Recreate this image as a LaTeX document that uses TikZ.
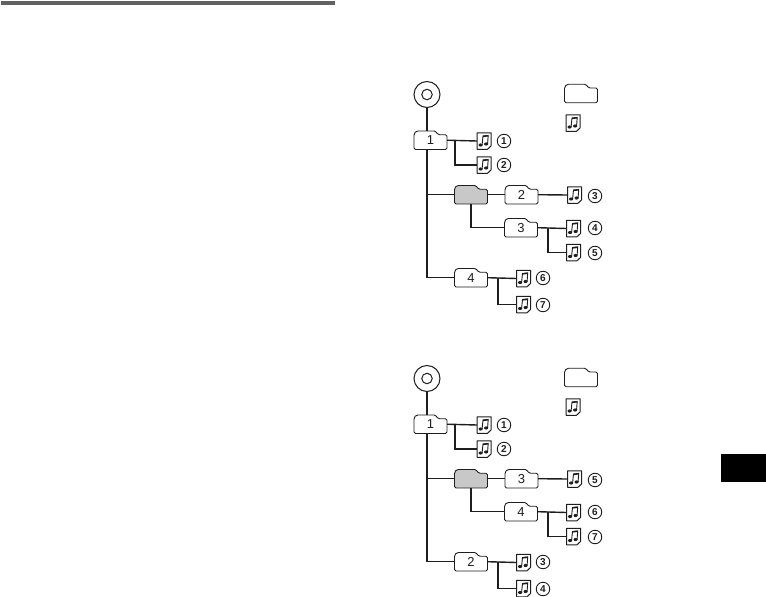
\documentclass[tikz,border=0pt]{standalone}
\usepackage{fontspec}
\setmainfont{Liberation Sans}
\definecolor{ink}{HTML}{1E1E1E}
\definecolor{foldgray}{HTML}{C8C8C8}
\tikzset{
  foldernode/.style={rectangle,inner sep=0pt,minimum width=33pt,minimum height=18.5pt,font=\fontsize{13}{13}\selectfont,text=ink},
  folderline/.style={draw=ink,line width=0.9pt,line join=round},
  notenode/.style={rectangle,inner sep=0pt,minimum width=14pt,minimum height=16.5pt},
  numnode/.style={circle,draw=ink,line width=0.9pt,inner sep=0pt,minimum size=13.5pt,font=\fontsize{10}{10}\selectfont\bfseries,text=ink},
  wire/.style={draw=ink,line width=1.4pt,line cap=butt,line join=miter},
  thinwire/.style={draw=ink,line width=1.1pt}
}
% name, centre x, centre y, label, fill
\newcommand{\foldericon}[5]{%
  \path[folderline,fill=#5,rounded corners=1.5pt]
    (#2-16.5,#3+9.25) -- (#2-16.5,#3-6.5) -- (#2-14,#3-9.25) -- (#2+5,#3-9.25)
    -- (#2+7.5,#3-5.5) -- (#2+16.5,#3-5.5) -- (#2+16.5,#3+9.25) -- cycle;
  \node[foldernode] (#1) at (#2,#3) {#4};
}
% name, centre x, centre y
\newcommand{\noteicon}[3]{%
  \path[draw=ink,line width=1pt,fill=white,line join=round]
    (#2-7,#3-8.25) -- (#2+7,#3-8.25) -- (#2+7,#3+5) -- (#2+3.5,#3+8.25) -- (#2-7,#3+8.25) -- cycle;
  \path[draw=ink,line width=0.9pt] (#2-1.9,#3+3.8) -- (#2-1,#3-5) -- (#2+4.2,#3-5.6) -- (#2+3.6,#3+2.8);
  \path[draw=ink,line width=1.4pt] (#2-1,#3-4.6) -- (#2+4.2,#3-5.2);
  \path[fill=ink] (#2-3.4,#3+4) ellipse [x radius=2.1pt,y radius=1.6pt];
  \path[fill=ink] (#2+2.1,#3+3) ellipse [x radius=2.1pt,y radius=1.6pt];
  \node[notenode] (#1) at (#2,#3) {};
}
% prefix, y offset, folder labels a b c, circled labels 1..7
\newcommand{\cdtree}[6]{%
  \begin{scope}[yshift=-#2pt]
  \node[circle,draw=ink,line width=1pt,fill=white,inner sep=0pt,minimum size=26pt] (#1disc) at (427,94.5) {};
  \node[circle,draw=ink,line width=1pt,inner sep=0pt,minimum size=10.5pt] (#1hole) at (427,94.5) {};
  \foldericon{#1legf}{581}{93.5}{}{white}
  \noteicon{#1legn}{573}{123}
  \foldericon{#1fone}{430.5}{140.2}{1}{white}
  \foldericon{#1gray}{471}{194.7}{}{foldgray}
  \foldericon{#1ftwo}{521.5}{194.7}{#3}{white}
  \foldericon{#1fthr}{521}{227.7}{#4}{white}
  \foldericon{#1ffou}{471}{277.7}{#5}{white}
  \noteicon{#1na}{484}{141}
  \noteicon{#1nb}{484}{165}
  \noteicon{#1nc}{574.5}{195}
  \noteicon{#1nd}{573.5}{228.5}
  \noteicon{#1ne}{573.5}{252.5}
  \noteicon{#1nf}{523.5}{278.5}
  \noteicon{#1ng}{523.5}{304.5}
  \coordinate (#1ba) at (455,140.2);
  \coordinate (#1bb) at (548,227.7);
  \coordinate (#1bc) at (498,277.7);
  \draw[thinwire] (#1disc.south) -- (#1disc.south |- #1fone.north);
  \draw[thinwire] (#1disc.south |- #1fone.south) -- (#1disc.south |- #1gray.west);
  \draw[wire] (#1disc.south |- #1gray.west) -- (#1gray.west);
  \draw[wire] (#1disc.south |- #1gray.west) |- (#1ffou.west);
  \draw[wire] (#1fone.east) -- (#1na.west);
  \draw[wire] (#1ba) |- (#1nb.west);
  \draw[wire] (#1gray.east) -- (#1ftwo.west);
  \draw[wire] (#1ftwo.east) -- (#1nc.west);
  \draw[wire] (#1gray.south) |- (#1fthr.west);
  \draw[wire] (#1fthr.east) -- (#1nd.west);
  \draw[wire] (#1bb) |- (#1ne.west);
  \draw[wire] (#1ffou.east) -- (#1nf.west);
  \draw[wire] (#1bc) |- (#1ng.west);
  \cdnums{#1}{#6}
  \end{scope}
}
\newcommand{\cdnums}[2]{%
  \foreach \nm/\px/\py/\tx in {#2}{%
    \node[numnode] (#1c\nm) at (\px,\py) {\tx};
  }%
}
\begin{document}
\begin{tikzpicture}[x=1pt,y=-1pt]
\useasboundingbox (0,0) rectangle (766,597);
\path[fill=white] (0,0) rectangle (766,597);
\path[fill=black!62] (1,1) rectangle (335,5);
\path[fill=black] (721,454) rectangle (766,482);
\cdtree{a}{0}{2}{3}{4}{a/504/141/1,b/504/165/2,c/595/196/3,d/595/228/4,e/595/253/5,f/543/278/6,g/543/305/7}
\cdtree{b}{284}{3}{4}{2}{a/504/141/1,b/504/165/2,c/595/196/5,d/595/228/6,e/595/253/7,f/543/278/3,g/543/305/4}
\end{tikzpicture}
\end{document}
